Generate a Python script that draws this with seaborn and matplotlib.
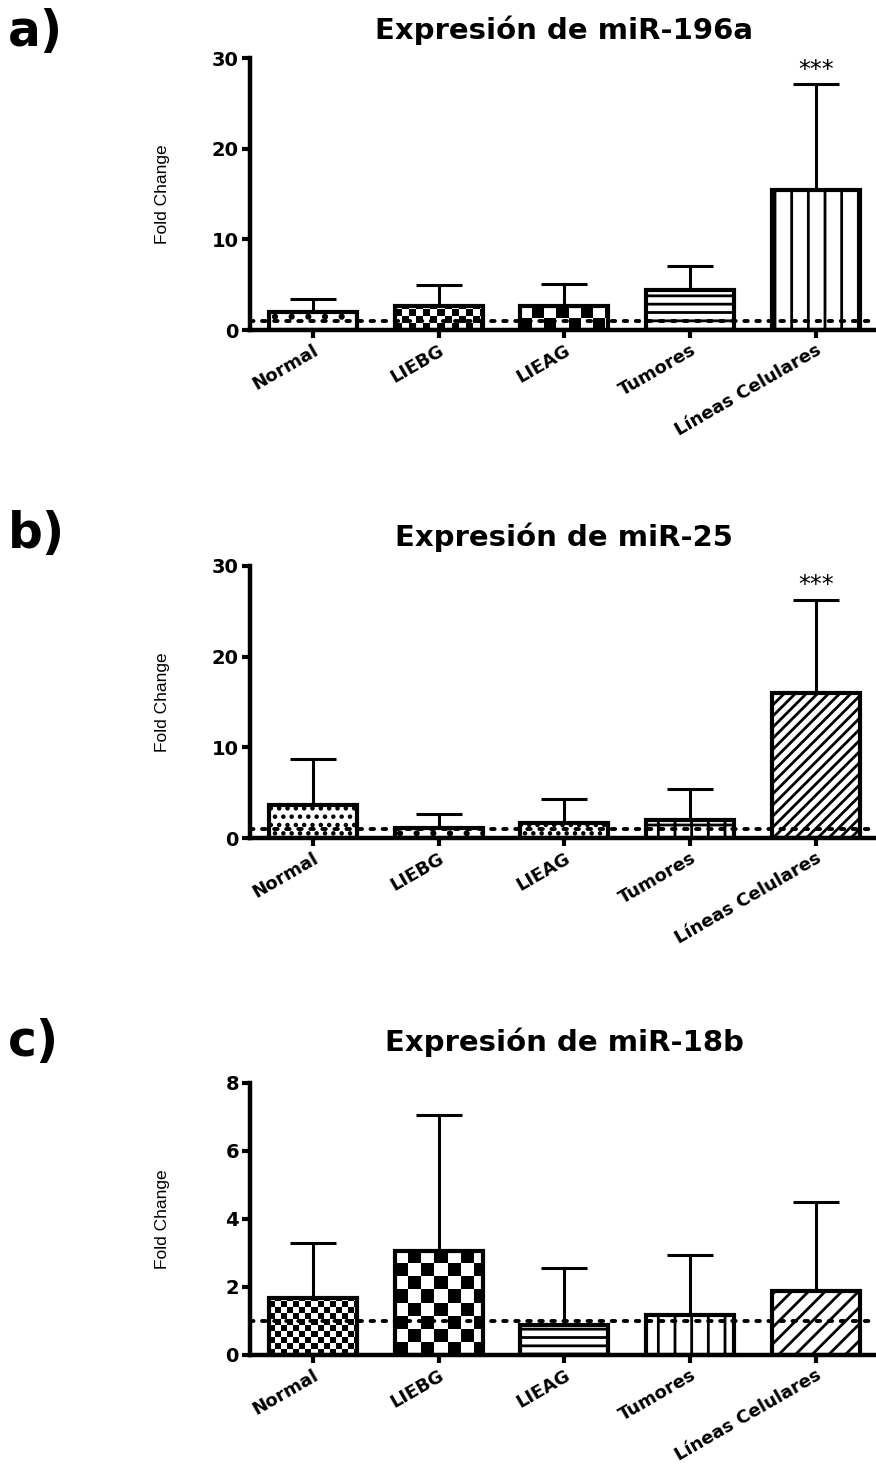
import numpy as np
import matplotlib
matplotlib.use("Agg")
import matplotlib.pyplot as plt
import seaborn as sns

# ---- data -------------------------------------------------------------
groups = ["Normal", "LIEBG", "LIEAG", "Tumores", "Líneas Celulares"]

titles = ["Expresión de miR-196a", "Expresión de miR-25", "Expresión de miR-18b"]
panel_tags = ["a)", "b)", "c)"]

mir196a_mean = [2.0, 2.7, 2.6, 4.4, 15.4]
mir196a_sd = [1.4, 2.3, 2.5, 2.7, 11.7]
mir196a_sig = ["", "", "", "", "***"]

mir25_mean = [3.6, 1.15, 1.7, 1.95, 16.0]
mir25_sd = [5.1, 1.55, 2.65, 3.5, 10.3]
mir25_sig = ["", "", "", "", "***"]

mir18b_mean = [1.67, 3.06, 0.88, 1.17, 1.88]
mir18b_sd = [1.61, 3.99, 1.67, 1.77, 2.62]
mir18b_sig = ["", "", "", "", ""]

y_max = [30, 30, 8]
y_ticks = [[0, 10, 20, 30], [0, 10, 20, 30], [0, 2, 4, 6, 8]]
reference_level = 1.0

# fill patterns: ("hatch", code) or ("checker", cell size in px)
fills = [
    [("hatch", "."), ("checker", 7), ("checker", 12), ("hatch", "--"), ("hatch", "|")],
    [("hatch", ".."), ("hatch", "."), ("hatch", ".."), ("hatch", "+"), ("hatch", "///")],
    [("checker", 6), ("checker", 13), ("hatch", "--"), ("hatch", "|"), ("hatch", "//")],
]

# ---- style ------------------------------------------------------------
sns.set_style("ticks")
plt.rcParams["font.family"] = ["DejaVu Sans"]
plt.rcParams["font.weight"] = "bold"
plt.rcParams["hatch.linewidth"] = 2.0
plt.rcParams["hatch.color"] = "black"
for key in ["text.color", "axes.labelcolor", "axes.edgecolor",
            "xtick.color", "ytick.color"]:
    plt.rcParams[key] = "black"

W, H = 876, 1474
fig = plt.figure(figsize=(W / 100, H / 100), dpi=100)

# axes frames in pixel terms: (top, bottom)
frames = [(58, 330), (566, 838), (1083, 1355)]
title_baselines = [39, 546, 1051]
tag_baselines = [46, 548, 1056]
ax_left, ax_right = 250, 876


def add_checker(ax, bar, cell):
    x0, y0 = bar.get_x(), bar.get_y()
    w, h = bar.get_width(), bar.get_height()
    p0 = ax.transData.transform((x0, y0))
    p1 = ax.transData.transform((x0 + w, y0 + h))
    pw, ph = p1[0] - p0[0], p1[1] - p0[1]
    nx = int(np.ceil(pw / cell))
    ny = max(int(np.ceil(ph / cell)), 1)
    grid = np.add.outer(np.arange(ny), np.arange(nx)) % 2
    x1 = x0 + nx * cell * w / pw
    y1 = y0 + ny * cell * h / ph
    im = ax.imshow(grid, cmap="gray", extent=(x0, x1, y0, y1), origin="lower",
                   interpolation="nearest", aspect="auto", zorder=0.5)
    im.set_clip_path(bar)
    bar.set_facecolor("none")


data = [
    (mir196a_mean, mir196a_sd, mir196a_sig),
    (mir25_mean, mir25_sd, mir25_sig),
    (mir18b_mean, mir18b_sd, mir18b_sig),
]

for i, (mean, sd, sig) in enumerate(data):
    top, bottom = frames[i]
    ax = fig.add_axes([ax_left / W, 1 - bottom / H,
                       (ax_right - ax_left) / W, (bottom - top) / H])
    sns.barplot(x=groups, y=mean, ax=ax, color="white", edgecolor="black",
                linewidth=3, width=0.7, errorbar=None, saturation=1)
    ax.set_xlim(-0.5, 4.478)
    ax.set_ylim(0, y_max[i])
    bars = list(ax.patches)
    for bar, (kind, spec) in zip(bars, fills[i]):
        bar.set_facecolor("white")
        bar.set_zorder(2)
        if kind == "hatch":
            bar.set_hatch(spec)
        else:
            add_checker(ax, bar, spec)
    ax.set_xlim(-0.5, 4.478)
    ax.set_ylim(0, y_max[i])

    # upper error whiskers only
    xs = [b.get_x() + b.get_width() / 2 for b in bars]
    ax.errorbar(xs, mean, yerr=[np.zeros(len(sd)), sd], fmt="none",
                ecolor="black", elinewidth=2.2, capsize=16.5, capthick=2.2,
                zorder=1.5)

    ax.axhline(reference_level, color="black", linestyle=(0, (0.9, 2.2)),
               linewidth=2.8, dash_capstyle="round", zorder=3)

    for x, m, s, txt in zip(xs, mean, sd, sig):
        if txt:
            ax.annotate(txt, (x, m + s), xytext=(0, 2), textcoords="offset points",
                        ha="center", va="bottom", fontsize=17, fontweight="normal")

    ax.set_yticks(y_ticks[i])
    ax.tick_params(axis="both", direction="out", length=6, width=3,
                   labelsize=14, pad=2)
    ax.set_xticks(range(len(groups)))
    ax.set_xticklabels(groups, rotation=30, ha="right", rotation_mode="anchor",
                       fontsize=13, fontweight="bold")
    for lab in ax.get_yticklabels():
        lab.set_fontweight("bold")
    sns.despine(ax=ax)
    ax.spines["left"].set_linewidth(3.2)
    ax.spines["bottom"].set_linewidth(3.2)
    ax.set_xlabel("")
    ax.set_ylabel("Fold Change", fontsize=12.5, fontweight="normal",
                  family=["Liberation Sans", "DejaVu Sans"])
    ax.yaxis.set_label_coords((170 - ax_left) / (ax_right - ax_left), 0.5)

    fig.text(564 / W, 1 - title_baselines[i] / H, titles[i], ha="center",
             va="baseline", fontsize=21, fontweight="bold")
    fig.text(8 / W, 1 - tag_baselines[i] / H, panel_tags[i], ha="left",
             va="baseline", fontsize=35, fontweight="bold")

fig.savefig("out.png", dpi=100)
